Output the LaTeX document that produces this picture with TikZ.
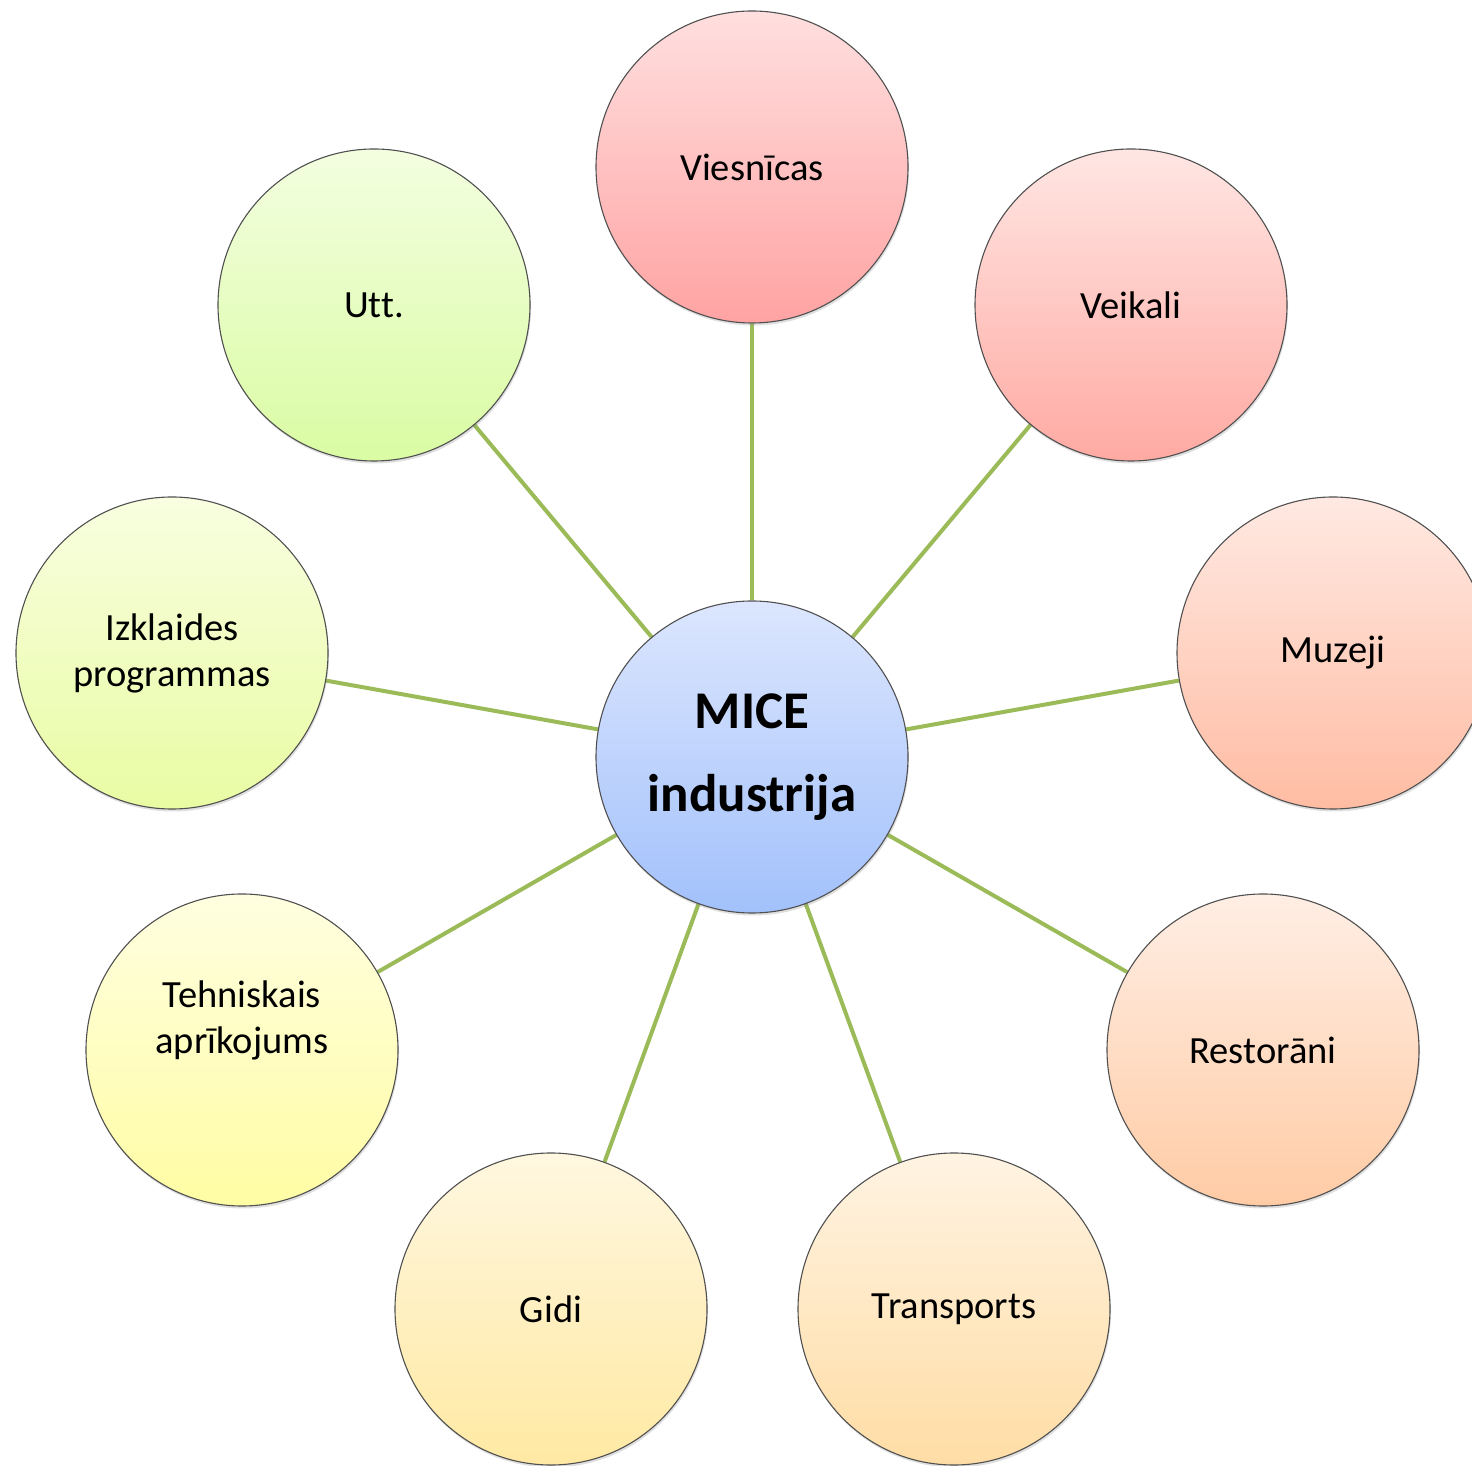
\documentclass[tikz,border=0pt]{standalone}
\usepackage{fontspec}
\setmainfont{Carlito}[Ligatures=NoCommon]
\usetikzlibrary{shadows,backgrounds}
\definecolor{linkgreen}{HTML}{9BBB59}
\definecolor{rimgray}{HTML}{505050}
\definecolor{miceT}{HTML}{DCE6FE}\definecolor{miceB}{HTML}{A2C1FB}
\definecolor{hotelT}{HTML}{FFDFDF}\definecolor{hotelB}{HTML}{FFA3A3}
\definecolor{shopT}{HTML}{FFE6E3}\definecolor{shopB}{HTML}{FFAAA3}
\definecolor{musT}{HTML}{FFE9E2}\definecolor{musB}{HTML}{FFBCA3}
\definecolor{restT}{HTML}{FFEEE4}\definecolor{restB}{HTML}{FFCBA5}
\definecolor{transT}{HTML}{FFF3E2}\definecolor{transB}{HTML}{FFDDA5}
\definecolor{guideT}{HTML}{FFF7E0}\definecolor{guideB}{HTML}{FFE9A3}
\definecolor{techT}{HTML}{FFFEE0}\definecolor{techB}{HTML}{FFFDA3}
\definecolor{funT}{HTML}{F8FEE0}\definecolor{funB}{HTML}{E9FCA3}
\definecolor{etcT}{HTML}{F3FEE0}\definecolor{etcB}{HTML}{DAFCA3}
\tikzset{
  bubble/.style 2 args={circle, minimum size=312pt, inner sep=0pt, draw=rimgray, line width=1.1pt,
    top color=#1, bottom color=#2,
    drop shadow={shadow xshift=1pt, shadow yshift=-2.5pt, opacity=0.25},
    align=center, font=\fontsize{38.5}{46}\selectfont, text=black},
  bubbletext/.style={align=center, font=\fontsize{38.5}{46}\selectfont, text=black, inner sep=0pt},
  link/.style={draw=linkgreen, line width=4pt}
}
\begin{document}
\begin{tikzpicture}[x=1pt,y=1pt]
\useasboundingbox (0,0) rectangle (1472,1465);
\node[bubble={miceT}{miceB}, font=\fontsize{53}{83}\selectfont\bfseries] (mice) at (752,708) {MICE\\industrija};
\node[bubble={hotelT}{hotelB}] (hotel) at (752,1298) {Viesnīcas};
\node[bubble={shopT}{shopB}] (shop) at (1131,1160) {Veikali};
\node[bubble={musT}{musB}] (museum) at (1333,812) {Muzeji};
\node[bubble={restT}{restB}] (rest) at (1263,415) {Restorāni};
\node[bubble={transT}{transB}] (trans) at (954,156) {Transports};
\node[bubble={guideT}{guideB}] (guide) at (551,156) {Gidi};
\node[bubble={techT}{techB}] (tech) at (242,415) {};
\node[bubbletext] (techtext) at ([yshift=30pt]tech.center) {Tehniskais\\aprīkojums};
\node[bubble={funT}{funB}] (fun) at (172,812) {Izklaides\\programmas};
\node[bubble={etcT}{etcB}] (etc) at (374,1160) {Utt.};
\begin{pgfonlayer}{background}
\foreach \n in {hotel,shop,museum,rest,trans,guide,tech,fun,etc}
  \draw[link] (mice) -- (\n);
\end{pgfonlayer}
\end{tikzpicture}
\end{document}
